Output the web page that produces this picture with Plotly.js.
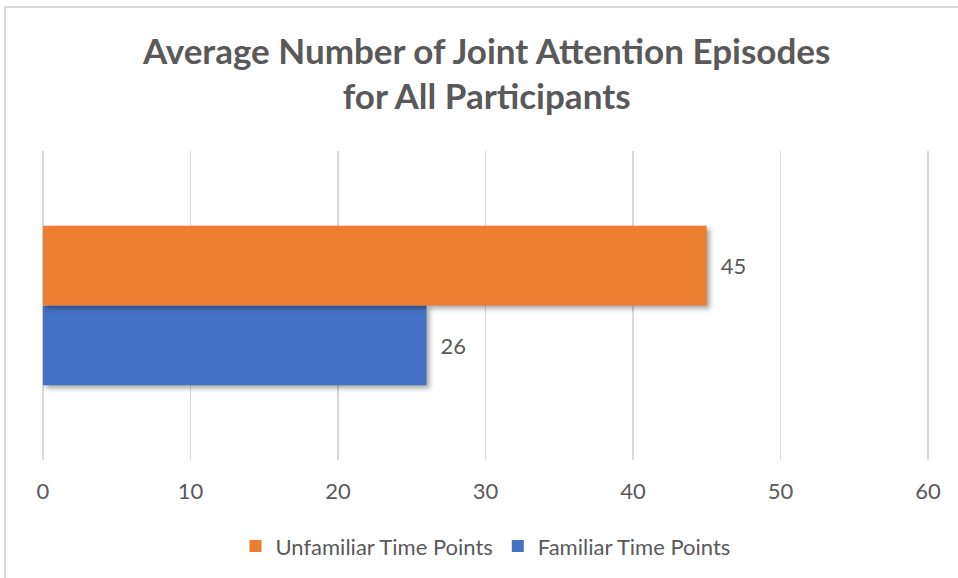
<!DOCTYPE html>
<html>
<head>
<meta charset="utf-8">
<script src="https://cdn.plot.ly/plotly-3.0.1.min.js"></script>
<style>
  html, body { margin: 0; padding: 0; background: #fff; }
  #chart { position: absolute; left: 0; top: 0; width: 958px; height: 578px; }
  #frame { position: absolute; left: 4px; top: 6px; right: 0; bottom: 0;
           border-top: 2px solid #d9d9d9; border-left: 2px solid #d9d9d9;
           pointer-events: none; z-index: 5; }
  #chart .bars path { filter: drop-shadow(3px 3px 2.5px rgba(0,0,0,0.35)); }
</style>
</head>
<body>
<div id="chart"></div>
<div id="frame"></div>
<script>
// Average joint attention episodes per condition
const category = ['All Participants'];
const familiarLabel = 'Familiar Time Points';
const unfamiliarLabel = 'Unfamiliar Time Points';
const familiarValues = [26];
const unfamiliarValues = [45];
const tickValues = [0, 10, 20, 30, 40, 50, 60];

const textFont = { family: 'Lato, "Open Sans", sans-serif', size: 22, color: '#595959' };

// value labels sit a little to the right of each bar end
const labelTemplate = '\u2002%{x}';

const traces = [
  {
    type: 'bar', orientation: 'h', name: familiarLabel,
    y: category, x: familiarValues,
    marker: { color: '#4472c4' },
    texttemplate: labelTemplate, textposition: 'outside',
    textfont: textFont, cliponaxis: false, hoverinfo: 'skip'
  },
  {
    type: 'bar', orientation: 'h', name: unfamiliarLabel,
    y: category, x: unfamiliarValues,
    marker: { color: '#ed7d31' },
    texttemplate: labelTemplate, textposition: 'outside',
    textfont: textFont, cliponaxis: false, hoverinfo: 'skip'
  }
];

const layout = {
  width: 958, height: 578,
  paper_bgcolor: '#ffffff', plot_bgcolor: '#ffffff',
  margin: { l: 40, r: 27, t: 151, b: 117 },
  barmode: 'group', bargap: 0.484, bargroupgap: 0,
  title: {
    text: 'Average Number of Joint Attention Episodes<br>for All Participants',
    font: { family: 'Lato, "Open Sans", sans-serif', size: 35, color: '#595959', weight: 'bold' },
    x: 0.508, xanchor: 'center', y: 0.89, yanchor: 'top', yref: 'container'
  },
  xaxis: {
    // small padding keeps the 0 and 60 gridlines inside the plot area
    range: [-0.2, 60.2], tickvals: tickValues, ticktext: tickValues.map(String),
    showgrid: true, gridcolor: '#d9d9d9', gridwidth: 1.5,
    zeroline: false, showline: false, ticks: '',
    tickfont: textFont, ticklabelstandoff: 16, fixedrange: true
  },
  yaxis: {
    showticklabels: false, showgrid: false, zeroline: false, showline: false,
    ticks: '', fixedrange: true
  },
  showlegend: true,
  legend: {
    orientation: 'h', traceorder: 'reversed',
    x: 0.5, xanchor: 'center', y: -0.275, yanchor: 'middle',
    font: textFont, itemwidth: 30
  }
};

Plotly.newPlot('chart', traces, layout, { displayModeBar: false, staticPlot: true });
</script>
</body>
</html>
